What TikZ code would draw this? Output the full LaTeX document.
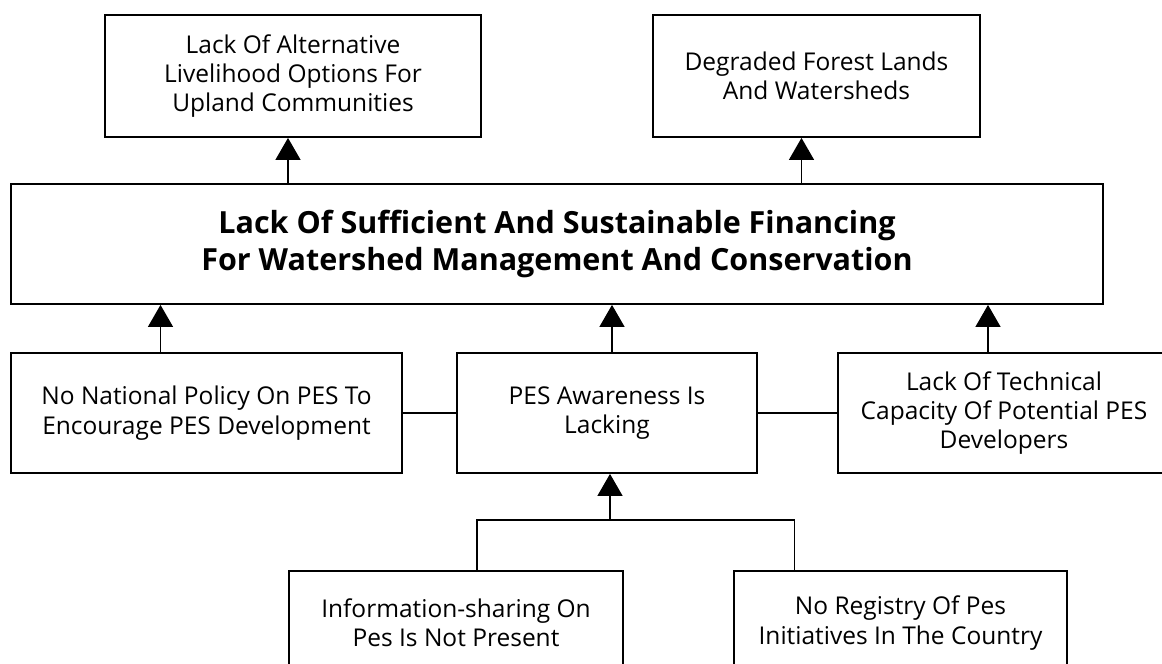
\documentclass[tikz,border=0pt]{standalone}
\usepackage{fontspec}
\setmainfont{Open Sans}
\usetikzlibrary{arrows.meta}

\newcommand*{\picw}{1162}
\newcommand*{\pich}{664}

\begin{document}
\begin{tikzpicture}
[
	x=1pt, y=-1pt,
	box/.style={draw,line width=1.8pt,align=center,inner sep=0pt,
		font=\fontsize{24.5}{29.3}\selectfont},
	corebox/.style={box,font=\fontsize{30.5}{37}\selectfont\bfseries},
	cause/.style={line width=1.3pt,-{Triangle[width=25pt,length=22pt]}},
	link/.style={line width=1.6pt}
]

	\useasboundingbox (0,0) rectangle (\picw,\pich);
	\clip (0,0) rectangle (\picw,\pich);

	% effects
	\node[box,minimum width=376pt,minimum height=122pt] (livelihood) at (293,76)
		{Lack Of Alternative\\Livelihood Options For\\Upland Communities};
	\node[box,minimum width=327pt,minimum height=122pt] (degraded) at (816.5,76)
		{Degraded Forest Lands\\And Watersheds};

	% core problem
	\node[corebox,minimum width=1092pt,minimum height=120pt] (core) at (557,244)
		{Lack Of Sufficient And Sustainable Financing\\For Watershed Management And Conservation};

	% causes
	\node[box,minimum width=391pt,minimum height=120pt] (policy) at (206.5,413)
		{No National Policy On PES To\\Encourage PES Development};
	\node[box,minimum width=300pt,minimum height=120pt] (awareness) at (607,413)
		{PES Awareness Is\\Lacking};
	\node[box,minimum width=332pt,minimum height=120pt] (capacity) at (1004,413)
		{Lack Of Technical\\Capacity Of Potential PES\\Developers};

	% root causes
	\node[box,minimum width=334pt,minimum height=104pt] (infoshare) at (456,623)
		{Information-sharing On\\Pes Is Not Present};
	\node[box,minimum width=333pt,minimum height=104pt] (registry) at (900.5,623)
		{No Registry Of Pes\\Initiatives In The Country};

	% arrows up to the effects
	\draw[cause] ([xshift=-5pt]livelihood.south |- core.north) -- ([xshift=-5pt]livelihood.south);
	\draw[cause] ([xshift=-15pt]degraded.south |- core.north) -- ([xshift=-15pt]degraded.south);

	% arrows up to the core problem
	\draw[cause] ([xshift=-46pt]policy.north) -- ([xshift=-46pt]policy.north |- core.south);
	\draw[cause] ([xshift=5pt]awareness.north) -- ([xshift=5pt]awareness.north |- core.south);
	\draw[cause] ([xshift=-16pt]capacity.north) -- ([xshift=-16pt]capacity.north |- core.south);

	% side links
	\draw[link] (policy.east) -- (awareness.west);
	\draw[link] (awareness.east) -- (capacity.west);

	% tree below awareness
	\coordinate (join) at ([xshift=3pt,yshift=-46pt]awareness.south);
	\draw[link] ([xshift=21pt]infoshare.north) |- (join) -| ([xshift=-106pt]registry.north);
	\draw[cause] (join) -- (join |- awareness.south);

\end{tikzpicture}
\end{document}
